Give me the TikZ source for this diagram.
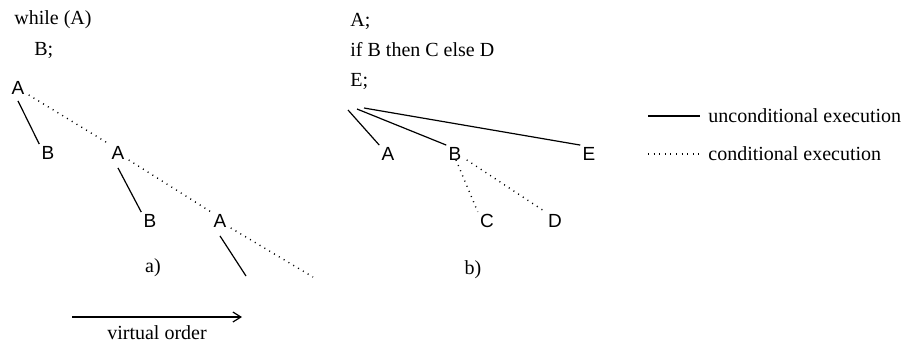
\documentclass[tikz,border=0pt]{standalone}
\usepackage{fontspec}
\setmainfont{Liberation Serif}
\setsansfont{Liberation Sans}
\usetikzlibrary{arrows.meta,positioning}

\begin{document}
\begin{tikzpicture}[
  x=0.5pt, y=-0.5pt,
  every node/.style={inner sep=1pt, font=\fontsize{10}{12}\selectfont},
  code/.style={anchor=base west},
  lbl/.style={font=\fontsize{9.5}{11}\selectfont\sffamily},
  uncond/.style={draw, line width=0.6pt},
  cond/.style={draw, line width=0.7pt, dash pattern=on 0.5pt off 2.3pt}
]
\useasboundingbox (0,0) rectangle (905,345);
% a) while loop
\node[code] (w1) at (12,24) {while (A)};
\node[code] (w2) at (32,55) {B;};
\node[lbl] (a1) at (18,88) {A};
\node[lbl] (b1) at (48,153) {B};
\node[lbl] (a2) at (118,153) {A};
\node[lbl] (b2) at (150,221) {B};
\node[lbl] (a3) at (220,221) {A};
\coordinate (e1) at (246,276);
\coordinate (e2) at (313,277);
\draw[uncond] ([yshift=-2pt]a1.south) -- (b1.north west);
\draw[cond] ([shift={(2,-2)}]a1.south east) -- (a2.north west);
\draw[uncond] ([yshift=-3pt]a2.south) -- (b2.north west);
\draw[cond] ([shift={(2,-2)}]a2.south east) -- (a3.north west);
\draw[uncond] ([yshift=-3pt]a3.south) -- (e1);
\draw[cond] ([shift={(2,-2)}]a3.south east) -- (e2);
\node (capa) at (153,268) {a)};
% b) if then else
\node[code] (s1) at (348,26) {A;};
\node[code] (s2) at (348,56) {if B then C else D};
\node[code] (s3) at (348,86) {E;};
\coordinate (ra) at (348,110);
\coordinate (rb) at (357,109);
\coordinate (re) at (364,108);
\node[lbl] (ta) at (388,154) {A};
\node[lbl] (tb) at (455,154) {B};
\node[lbl] (te) at (589,154) {E};
\node[lbl] (tc) at (487,221) {C};
\node[lbl] (td) at (555,221) {D};
\draw[uncond] (ra) -- (ta.north west);
\draw[uncond] (rb) -- (tb.north west);
\draw[uncond] (re) -- (te.north west);
\draw[cond] ([shift={(1,-3)}]tb.south) -- (tc.north west);
\draw[cond] ([shift={(3,-3)}]tb.south east) -- (td.north west);
\node (capb) at (473,270) {b)};
% legend
\node[anchor=west] (unc) at (706,116) {unconditional execution};
\node[anchor=west] (con) at (706,154) {conditional execution};
\coordinate (l1) at (648,116);
\coordinate (l2) at (648,154);
\draw[uncond] (l1) -- ([xshift=-3pt]unc.west);
\draw[cond] (l2) -- ([xshift=-3pt]con.west);
% virtual order
\coordinate (v1) at (72,317);
\coordinate (v2) at (242,317);
\draw[uncond, -{Straight Barb[length=4pt,width=5pt]}] (v1) -- (v2);
\node[anchor=base] (vo) at (157,339) {virtual order};
\end{tikzpicture}
\end{document}
